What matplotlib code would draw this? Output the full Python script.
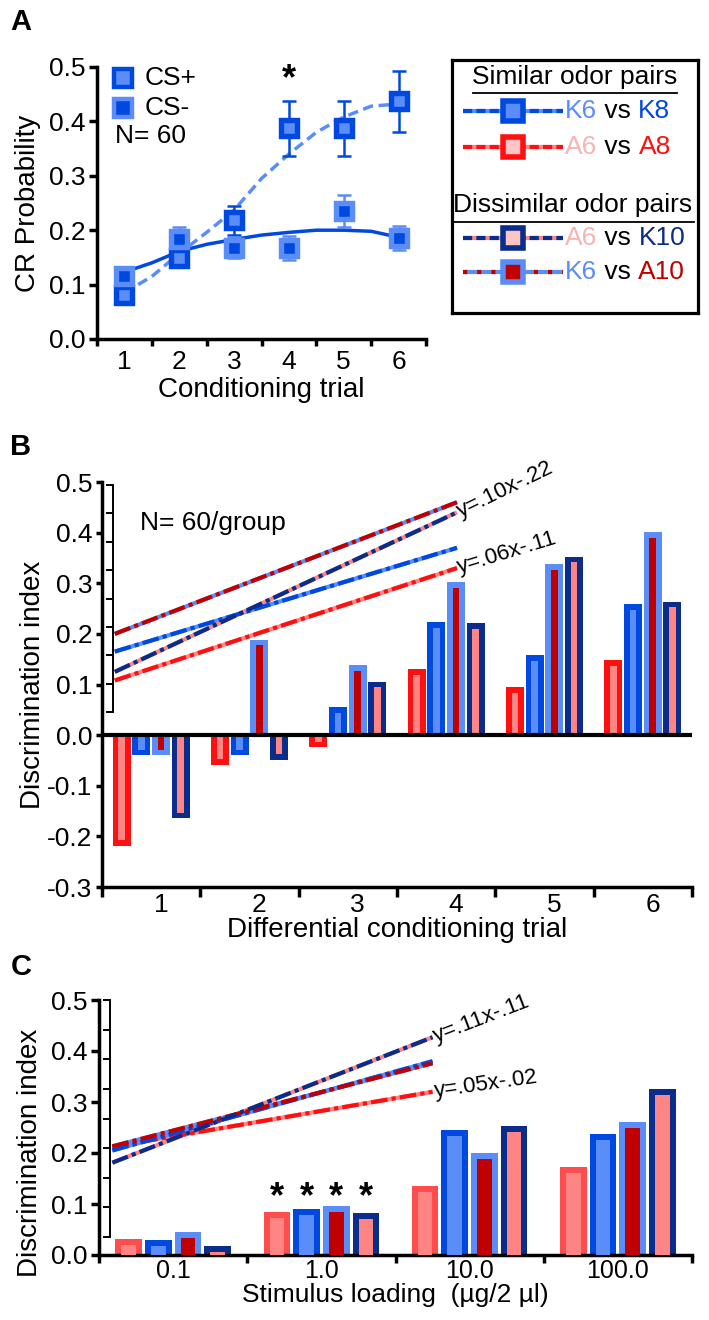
import numpy as np
import matplotlib
matplotlib.use('Agg')
import matplotlib.pyplot as plt

plt.rcParams['font.family'] = ['Liberation Sans', 'DejaVu Sans']

#colours
blue = '#0049E0'
light_blue = '#5B8DF8'
navy = '#0A2C8A'
red = '#FF1010'
red_c = '#FF4D4D'
pink = '#FF8585'
pale_pink = '#F7B4B4'
dark_red = '#C00000'

# ---- panel A
trials = [1, 2, 3, 4, 5, 6]
cs_plus = [0.081, 0.148, 0.218, 0.387, 0.387, 0.437]
cs_plus_err = [0.015, 0.015, 0.027, 0.05, 0.05, 0.056]
cs_minus = [0.115, 0.183, 0.168, 0.168, 0.235, 0.185]
cs_minus_err = [0.015, 0.022, 0.02, 0.022, 0.03, 0.022]
fit_x = [1, 1.5, 2, 2.5, 3, 3.5, 4, 4.5, 5, 5.5, 6]
cs_plus_fit = [0.085, 0.115, 0.157, 0.196, 0.237, 0.295, 0.34, 0.38, 0.408, 0.428, 0.432]
cs_minus_fit = [0.123, 0.14, 0.161, 0.174, 0.183, 0.191, 0.196, 0.2, 0.2, 0.198, 0.187]

# ---- panel B (bars: A6vsA8, K6vsK8, K6vsA10, A6vsK10)
b_groups = [1, 2, 3, 4, 5, 6]
b_a6a8 = [-0.219, -0.059, -0.024, 0.13, 0.095, 0.148]
b_k6k8 = [-0.04, -0.04, 0.055, 0.223, 0.158, 0.259]
b_k6a10 = [-0.04, 0.188, 0.138, 0.302, 0.338, 0.401]
b_a6k10 = [-0.164, -0.049, 0.105, 0.221, 0.352, 0.263]
reg_b_x = [0.63, 4.11]
reg_b_k6a10 = [0.2, 0.46]
reg_b_a6k10 = [0.125, 0.44]
reg_b_k6k8 = [0.165, 0.37]
reg_b_a6a8 = [0.108, 0.33]

# ---- panel C
c_labels = ['0.1', '1.0', '10.0', '100.0']
c_groups = [1, 2, 3, 4]
c_a6a8 = [0.031, 0.084, 0.135, 0.172]
c_k6k8 = [0.029, 0.09, 0.246, 0.238]
c_k6a10 = [0.045, 0.096, 0.2, 0.26]
c_a6k10 = [0.018, 0.083, 0.253, 0.326]
reg_c_x = [0.59, 2.75]
reg_c_a6k10 = [0.181, 0.427]
reg_c_k6k8 = [0.205, 0.38]
reg_c_k6a10 = [0.213, 0.376]
reg_c_a6a8 = [0.212, 0.32]

W, H = 709, 1320
fig = plt.figure(figsize=(W / 100, H / 100), dpi=100)


def px_rect(x0, y0, x1, y1):
    return [x0 / W, 1 - y1 / H, (x1 - x0) / W, (y1 - y0) / H]


def style_axis(ax, lw):
    for s in ['top', 'right']:
        ax.spines[s].set_visible(False)
    for s in ['left', 'bottom']:
        ax.spines[s].set_linewidth(lw)


def cat_ticks(ax, centers, labels, fs, shift=0.0):
    lo, hi = ax.get_xlim()
    ax.set_xticks(np.arange(lo, hi + 0.01, 1))
    ax.set_xticklabels([])
    ax.set_xticks(np.array(centers) + shift, minor=True)
    ax.set_xticklabels(labels, minor=True, fontsize=fs)
    ax.tick_params(axis='x', which='minor', length=0)


def framed_bars(ax, xs, vals, width, edge, fill, bx, by):
    ax.bar(xs, vals, width, color=edge, linewidth=0, zorder=2)
    inner = [v - np.sign(v) * by for v in vals]
    inner = [iv if iv * v > 0 else 0 for iv, v in zip(inner, vals)]
    ax.bar(xs, inner, width - 2 * bx, color=fill, linewidth=0, zorder=3)


def two_tone(ax, x, y, base, dash, dashes, lw=3.0, **kw):
    ax.plot(x, y, color=base, lw=lw, solid_capstyle='butt', zorder=5, **kw)
    ax.plot(x, y, color=dash, lw=lw, dashes=dashes, dash_capstyle='butt', zorder=6, **kw)


def bracket(rect):
    bx = fig.add_axes(rect)
    bx.patch.set_alpha(0)
    for s in ['top', 'right', 'bottom']:
        bx.spines[s].set_visible(False)
    bx.spines['left'].set_linewidth(1.4)
    bx.set_ylim(0, 8)
    bx.set_yticks(np.arange(0, 9))
    bx.set_yticklabels([])
    bx.set_xticks([])
    bx.tick_params(axis='y', length=5, width=1.4)


# ================= A
axA = fig.add_axes(px_rect(97, 67, 426, 339))
axA.set_xlim(0.5, 6.5)
axA.set_ylim(0, 0.5)
style_axis(axA, 2.5)
axA.set_yticks(np.arange(0, 0.51, 0.1))
axA.set_yticklabels(['%.1f' % v for v in np.arange(0, 0.51, 0.1)], fontsize=19)
axA.tick_params(axis='y', length=6, width=2.5, pad=2)
axA.tick_params(axis='x', which='major', length=5, width=2.5)
cat_ticks(axA, trials, [str(t) for t in trials], 19)
axA.tick_params(axis='x', which='minor', pad=8)
axA.set_xlabel('Conditioning trial', fontsize=20, labelpad=2)
axA.set_ylabel('CR Probability', fontsize=20)
axA.yaxis.set_label_coords(-0.17, 0.5)

axA.plot(fit_x, cs_minus_fit, color=blue, lw=2.5, zorder=2)
axA.plot(fit_x, cs_plus_fit, color=light_blue, lw=2.5, dashes=(3, 1.6), zorder=2)
axA.errorbar(trials, cs_plus, yerr=cs_plus_err, fmt='none', ecolor=blue,
             elinewidth=1.8, capsize=5, capthick=1.8, zorder=3)
axA.errorbar(trials, cs_minus, yerr=cs_minus_err, fmt='none', ecolor=light_blue,
             elinewidth=1.8, capsize=5, capthick=1.8, zorder=3)
axA.plot(trials, cs_plus, 's', ms=11, mfc=light_blue, mec=blue, mew=3.9, zorder=4)
axA.plot(trials, cs_minus, 's', ms=11, mfc=blue, mec=light_blue, mew=3.9, zorder=4)
axA.text(4, 0.476, '*', ha='center', va='center', fontsize=26, fontweight='bold')

# in-plot key
axA.plot([0.08], [0.96], 's', ms=12.5, mfc=light_blue, mec=blue, mew=3.2,
         transform=axA.transAxes, clip_on=False)
axA.plot([0.08], [0.85], 's', ms=12.5, mfc=blue, mec=light_blue, mew=3.2,
         transform=axA.transAxes, clip_on=False)
axA.text(0.145, 0.96, 'CS+', transform=axA.transAxes, va='center', fontsize=19)
axA.text(0.145, 0.85, 'CS-', transform=axA.transAxes, va='center', fontsize=19)
axA.text(0.055, 0.745, 'N= 60', transform=axA.transAxes, va='center', fontsize=19)

# ================= legend box
axL = fig.add_axes(px_rect(452, 60, 698, 313))
axL.set_xlim(0, 246)
axL.set_ylim(253, 0)
axL.set_xticks([])
axL.set_yticks([])
for s in axL.spines.values():
    s.set_linewidth(2.3)

axL.text(123, 17, 'Similar odor pairs', ha='center', va='center', fontsize=19)
axL.plot([21, 225], [33, 33], color='k', lw=1.3)
axL.text(121, 145, 'Dissimilar odor pairs', ha='center', va='center', fontsize=19)
axL.plot([0, 242], [162, 162], color='k', lw=1.3)

rows = [
    ([('K6', light_blue), (' vs ', 'k'), ('K8', blue)], light_blue, blue, (2.2, 1.0), blue, light_blue, 51),
    ([('A6', pale_pink), (' vs ', 'k'), ('A8', red)], pink, red, (2.2, 1.0), red, '#FFC4C4', 87),
    ([('A6', pale_pink), (' vs ', 'k'), ('K10', navy)], pink, navy, (2.2, 1.0), navy, '#FFC4C4', 178),
    ([('K6', light_blue), (' vs ', 'k'), ('A10', dark_red)], light_blue, dark_red, (1.0, 2.4), light_blue, dark_red, 212),
]
for parts, base, dash, dsh, mec, mfc, y in rows:
    two_tone(axL, [11, 111], [y, y], base, dash, dsh, lw=3.0)
    axL.plot([61], [y], 's', ms=14, mfc=mfc, mec=mec, mew=4, zorder=7)
    t = axL.text(113, y, parts[0][0], color=parts[0][1], va='center', fontsize=19)
    for s, c in parts[1:]:
        t = axL.annotate(s, xy=(1, 0), xycoords=t, va='bottom', ha='left',
                         color=c, fontsize=19)

# ================= B
axB = fig.add_axes(px_rect(102, 482, 692, 887))
axB.set_xlim(0.5, 6.5)
axB.set_ylim(-0.3, 0.5)
style_axis(axB, 2.5)
yt = np.round(np.arange(-0.3, 0.51, 0.1), 1)
axB.set_yticks(yt)
axB.set_yticklabels(['%.1f' % v for v in yt], fontsize=19)
axB.tick_params(axis='y', length=4, width=2.5, pad=3)
axB.tick_params(axis='x', which='major', length=7, width=2.5)
cat_ticks(axB, b_groups, [str(g) for g in b_groups], 19, shift=0.1)
axB.tick_params(axis='x', which='minor', pad=4)
axB.set_xlabel('Differential conditioning trial', fontsize=20, labelpad=0)
axB.set_ylabel('Discrimination index', fontsize=20)
axB.yaxis.set_label_coords(-0.095, 0.5)
axB.axhline(0, color='k', lw=3, zorder=8)

bw = 0.18
bxB = 5.5 / (590 / 6.0)
byB = 5.5 / (405 / 0.8)
offs = [-0.3, -0.1, 0.1, 0.3]
gB = np.array(b_groups)
framed_bars(axB, gB + offs[0], b_a6a8, bw, red, pink, bxB, byB)
framed_bars(axB, gB + offs[1], b_k6k8, bw, blue, light_blue, bxB, byB)
framed_bars(axB, gB + offs[2], b_k6a10, bw, light_blue, dark_red, bxB, byB)
framed_bars(axB, gB + offs[3], b_a6k10, bw, navy, pink, bxB, byB)

dd = (4, 1, 1, 1)
two_tone(axB, reg_b_x, reg_b_a6a8, pink, red, dd)
two_tone(axB, reg_b_x, reg_b_k6k8, light_blue, blue, dd)
two_tone(axB, reg_b_x, reg_b_a6k10, pink, navy, dd)
two_tone(axB, reg_b_x, reg_b_k6a10, light_blue, dark_red, dd)
axB.text(4.12, reg_b_a6k10[1], 'y=.10x-.22', rotation=26, rotation_mode='anchor',
         ha='left', va='center', fontsize=16)
axB.text(4.12, reg_b_a6a8[1], 'y=.06x-.11', rotation=17, rotation_mode='anchor',
         ha='left', va='center', fontsize=16)
axB.text(0.89, 0.419, 'N= 60/group', va='center', fontsize=19)
bracket(px_rect(113, 485, 113.5, 712))

# ================= C
axC = fig.add_axes(px_rect(99, 1000, 692, 1255))
axC.set_xlim(0.5, 4.5)
axC.set_ylim(0, 0.5)
style_axis(axC, 2.5)
axC.set_yticks(np.arange(0, 0.51, 0.1))
axC.set_yticklabels(['%.1f' % v for v in np.arange(0, 0.51, 0.1)], fontsize=19)
axC.tick_params(axis='y', length=6, width=2.5, pad=2)
axC.tick_params(axis='x', which='major', length=6, width=2.5)
cat_ticks(axC, c_groups, c_labels, 18)
axC.tick_params(axis='x', which='minor', pad=3)
axC.set_xlabel('Stimulus loading  (µg/2 µl)', fontsize=19, labelpad=0)
axC.set_ylabel('Discrimination index', fontsize=20)
axC.yaxis.set_label_coords(-0.095, 0.4)

bxC = 6 / (593 / 4.0)
byC = 6 / (255 / 0.5)
gC = np.array(c_groups)
framed_bars(axC, gC + offs[0], c_a6a8, bw, red_c, pink, bxC, byC)
framed_bars(axC, gC + offs[1], c_k6k8, bw, blue, light_blue, bxC, byC)
framed_bars(axC, gC + offs[2], c_k6a10, bw, light_blue, dark_red, bxC, byC)
framed_bars(axC, gC + offs[3], c_a6k10, bw, navy, pink, bxC, byC)

two_tone(axC, reg_c_x, reg_c_a6a8, pink, red, dd)
two_tone(axC, reg_c_x, reg_c_k6k8, light_blue, blue, dd)
two_tone(axC, reg_c_x, reg_c_k6a10, light_blue, dark_red, dd)
two_tone(axC, reg_c_x, reg_c_a6k10, pink, navy, dd)
axC.text(2.76, reg_c_a6k10[1], 'y=.11x-.11', rotation=21, rotation_mode='anchor',
         ha='left', va='center', fontsize=16)
axC.text(2.76, reg_c_a6a8[1], 'y=.05x-.02', rotation=8, rotation_mode='anchor',
         ha='left', va='center', fontsize=16)
for o in offs:
    axC.text(2 + o, 0.112, '*', ha='center', va='center', fontsize=26, fontweight='bold')
bracket(px_rect(110, 1000, 110.5, 1237))

# panel letters
for letter, yy in [('A', 22), ('B', 447), ('C', 967)]:
    fig.text(21 / W, 1 - yy / H, letter, ha='center', va='center', fontsize=21, fontweight='bold')

fig.savefig('out.png', dpi=100)
